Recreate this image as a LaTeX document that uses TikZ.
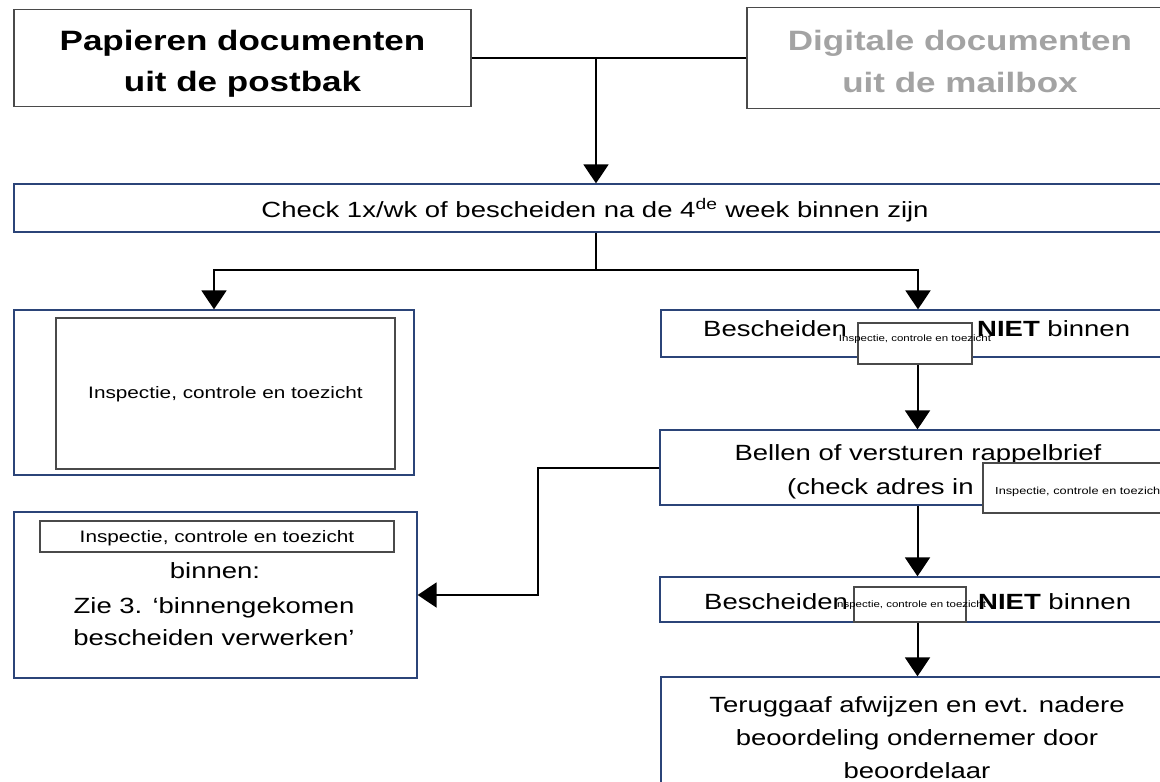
\documentclass[tikz,border=0pt]{standalone}
\usepackage{fontspec}
\setmainfont{Liberation Sans}
\usepackage{graphicx}
\usetikzlibrary{arrows.meta}
\definecolor{navy}{HTML}{2B4478}
\definecolor{boxgray}{HTML}{4A4A4A}
\definecolor{txtgray}{HTML}{A3A3A3}
\newcommand{\stretchx}[1]{\scalebox{1.25}[1]{#1}}
\newcommand{\fsz}[1]{\fontsize{#1}{#1}\selectfont}
\begin{document}
\begin{tikzpicture}[x=1pt,y=-1pt,
  frame/.style={draw=navy, line width=1.3pt, inner sep=0pt, rectangle},
  topframe/.style={draw=boxgray, line width=1.5pt, inner sep=0pt, rectangle},
  smallframe/.style={draw=boxgray, line width=1.2pt, fill=white, inner sep=0pt, rectangle},
  txt/.style={inner sep=0pt, anchor=base},
  txtw/.style={inner sep=0pt, anchor=base west},
  conn/.style={draw=black, line width=2pt},
  arr/.style={conn, -{Triangle[length=19pt,width=25pt]}}
]
\clip (0,0) rectangle (1160,782);
\useasboundingbox (0,0) rectangle (1160,782);
\fill[white] (0,0) rectangle (1160,782);

% top boxes
\node[topframe, minimum width=457pt, minimum height=97pt] (A) at (242.5,58) {};
\node[txt] (At1) at (242.5,50) {\fsz{28}\bfseries\stretchx{Papieren documenten}};
\node[txt] (At2) at (242.5,91) {\fsz{28}\bfseries\stretchx{uit de postbak}};

\node[topframe, minimum width=428pt, minimum height=101pt] (B) at (961,58) {};
\node[txt, text=txtgray] (Bt1) at (960,50) {\fsz{28}\bfseries\stretchx{Digitale documenten}};
\node[txt, text=txtgray] (Bt2) at (960,92) {\fsz{28}\bfseries\stretchx{uit de mailbox}};

% check box
\node[frame, minimum width=1161pt, minimum height=48pt] (check) at (594.5,208) {};
\node[txt] (checkt) at (595,217) {\fsz{22}\stretchx{Check 1x/wk of bescheiden na de 4\textsuperscript{de} week binnen zijn}};

% left column
\node[frame, minimum width=400pt, minimum height=165pt] (L1) at (214,392.5) {};
\node[topframe, line width=1.2pt, minimum width=339pt, minimum height=151pt] (L1i) at (225.5,393.5) {};
\node[txt] (L1t) at (225.5,398) {\fsz{16.6}\stretchx{Inspectie, controle en toezicht}};

\node[frame, minimum width=403pt, minimum height=166pt] (L2) at (215.5,595) {};
\node[topframe, line width=1.2pt, minimum width=354pt, minimum height=31pt] (L2i) at (217,536.5) {};
\node[txt] (L2t0) at (217,542) {\fsz{16.6}\stretchx{Inspectie, controle en toezicht}};
\node[txt] (L2t1) at (215,578) {\fsz{22}\stretchx{binnen:}};
\node[txt] (L2t2) at (214,613) {\fsz{22}\stretchx{Zie 3. ‘binnengekomen}};
\node[txt] (L2t3) at (214,645) {\fsz{22}\stretchx{bescheiden verwerken’}};

% right column, box 1
\node[frame, minimum width=514pt, minimum height=47pt] (R1) at (918,333.5) {};
\node[smallframe, minimum width=114pt, minimum height=41pt] (S1) at (915,343.5) {};
\node[txt] (S1t) at (915,341) {\fsz{9.2}\stretchx{Inspectie, controle en toezicht}};
\node[txtw] (R1a) at (703,336) {\fsz{22}\stretchx{Bescheiden}};
\node[txtw] (R1b) at (977,336) {\fsz{22}\stretchx{\textbf{NIET} binnen}};

% right column, box 2
\node[frame, minimum width=515pt, minimum height=75pt] (R2) at (917.5,467.5) {};
\node[txt] (R2a) at (918,460) {\fsz{22}\stretchx{Bellen of versturen rappelbrief}};
\node[txtw] (R2b) at (787,494) {\fsz{22}\stretchx{(check adres in}};
\node[smallframe, minimum width=237pt, minimum height=50pt] (S2) at (1101.5,488) {};
\node[txtw] (S2t) at (995,494) {\fsz{10.2}\stretchx{Inspectie, controle en toezicht}};

% right column, box 3
\node[frame, minimum width=515pt, minimum height=45pt] (R3) at (917.5,599.5) {};
\node[smallframe, minimum width=112pt, minimum height=35pt] (S3) at (910,604.5) {};
\node[txt] (S3t) at (910,607) {\fsz{9.2}\stretchx{Inspectie, controle en toezicht}};
\node[txtw] (R3a) at (704,609) {\fsz{22}\stretchx{Bescheiden}};
\node[txtw] (R3b) at (978,609) {\fsz{22}\stretchx{\textbf{NIET} binnen}};

% right column, box 4
\node[frame, minimum width=514pt, minimum height=133pt] (R4) at (918,743.5) {};
\node[txt] (R4a) at (917,712) {\fsz{22}\stretchx{Teruggaaf afwijzen en evt. nadere}};
\node[txt] (R4b) at (917,745) {\fsz{22}\stretchx{beoordeling ondernemer door}};
\node[txt] (R4c) at (917,778) {\fsz{22}\stretchx{beoordelaar}};

% connectors
\coordinate (j1) at (596,58);
\draw[arr] (A.east) -- (j1) -- (j1 |- check.north);
\draw[conn] (B.west) -- (j1);

\coordinate (j2) at (596,270);
\draw[conn] (j2 |- check.south) -- (j2);
\draw[arr] (j2) -| (L1.north);
\draw[arr] (j2) -| (R1.north);

\draw[arr] (R2.north |- S1.south) -- (R2.north);

\coordinate (j3) at (538,467.5);
\draw[arr] (R2.west) -- (j3) |- (L2.east);

\draw[arr] (R2.south) -- (R3.north);
\draw[arr] (R3.south) -- (R3.south |- R4.north);
\end{tikzpicture}
\end{document}
